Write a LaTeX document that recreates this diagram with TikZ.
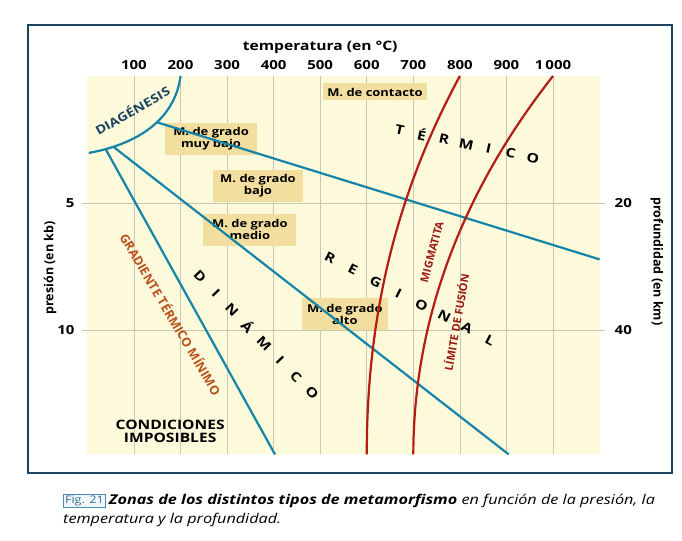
\documentclass[tikz,border=0pt]{standalone}
\usepackage{fontspec}
\setmainfont{Open Sans}[FakeStretch=1.2]
\newfontfamily\narrowsans{Open Sans}
\usetikzlibrary{calc}
\definecolor{framenavy}{RGB}{28,68,98}
\definecolor{chartyellow}{RGB}{252,250,218}
\definecolor{gridgray}{RGB}{200,198,180}
\definecolor{curveblue}{RGB}{22,132,168}
\definecolor{curvered}{RGB}{180,28,20}
\definecolor{boxtan}{RGB}{242,222,158}
\definecolor{labelbrown}{RGB}{186,80,30}
\definecolor{figblue}{RGB}{70,140,190}
\begin{document}
\begin{tikzpicture}[x=0.4656pt, y=-25.4pt,
  gridline/.style={draw=gridgray, line width=0.7pt},
  bluecurve/.style={draw=curveblue, line width=2.2pt},
  redcurve/.style={draw=curvered, line width=2.2pt},
  zonebox/.style={fill=boxtan, minimum width=90pt, minimum height=32pt, align=center, inner sep=2pt, font=\bfseries\fontsize{10.8}{12}\selectfont},
  zoneletter/.style={inner sep=1pt, font=\bfseries\fontsize{13}{13}\selectfont},
  ticklabel/.style={font=\bfseries\fontsize{12.5}{12.5}\selectfont},
  axislabel/.style={font=\bfseries\fontsize{13}{13}\selectfont},
  sidelabel/.style={font=\narrowsans\bfseries\fontsize{12.5}{12.5}\selectfont},
  bandlabel/.style={inner sep=1pt, font=\narrowsans\bfseries\fontsize{11}{12}\selectfont}
]
  \useasboundingbox (-187.71,-2.992) rectangle (1277.06,18.307);
  \draw[framenavy, line width=2pt] (-127.6,-2.008) rectangle (1255.6,15.63);

  \fill[chartyellow] (0,0) rectangle (1100,14.9);
  \foreach \t in {100,200,...,1000} \draw[gridline] (\t,0) -- (\t,14.9);
  \foreach \p in {5,10} \draw[gridline] (-12,\p) -- (1112,\p);

  \foreach \t/\lab in {100/100,200/200,300/300,400/400,500/500,600/600,700/700,800/800,900/900,1000/{1\,000}}
    \node[ticklabel] (tick\t) at (\t,-0.43) {\lab};
  \node[axislabel] (temptitle) at (500,-1.14) {temperatura (en °C)};
  \node[sidelabel, rotate=90] (prestitle) at (-80,7.56) {presión (en kb)};
  \node[sidelabel, rotate=-90] (depthtitle) at (1223,7.3) {profundidad (en km)};
  \node[ticklabel, anchor=east] (p5) at (-20,5) {5};
  \node[ticklabel, anchor=east] (p10) at (-20,10) {10};
  \node[ticklabel, anchor=west] (d20) at (1125,5) {20};
  \node[ticklabel, anchor=west] (d40) at (1125,10) {40};

  \node[zonebox, minimum width=104pt, minimum height=17pt] (contacto) at (617.7,0.63) {M. de contacto};
  \node[zonebox, minimum width=92pt] (muybajo) at (265.5,2.48) {M. de grado\\muy bajo};
  \node[zonebox] (bajo) at (366.4,4.33) {M. de grado\\bajo};
  \node[zonebox, minimum width=93pt] (medio) at (349,6.06) {M. de grado\\medio};
  \node[zonebox, minimum width=86pt] (alto) at (553,9.37) {M. de grado\\alto};

  \draw[bluecurve] (200,0) .. controls (190.2,1.42) and (130.2,2.6) .. (3,3.03)
    coordinate[pos=0.48] (dgA) coordinate[pos=0.85] (dgB) coordinate[pos=0.9] (dgC);
  \coordinate (bajoend) at (1100,7.22);
  \coordinate (regend) at (905,14.9);
  \coordinate (gradend) at (403,14.9);
  \draw[bluecurve] (dgA) -- (bajoend);
  \draw[bluecurve] (dgB) -- (regend);
  \draw[bluecurve] (dgC) -- (gradend);

  \coordinate (migtop) at (800,0);
  \coordinate (migbot) at (600,14.9);
  \coordinate (fustop) at (1000,0);
  \coordinate (fusbot) at (700,14.9);
  \draw[redcurve] (migtop) .. controls (650,5.08) and (600,10) .. (migbot);
  \draw[redcurve] (fustop) .. controls (790,4.9) and (700,10) .. (fusbot);

  \coordinate (terA) at (671,2.13);
  \coordinate (terB) at (957,3.23);
  \foreach \l [count=\i from 0] in {T,É,R,M,I,C,O}
    \node[zoneletter, rotate=-12] (ter\i) at ($(terA)!\i/6!(terB)$) {\l};
  \coordinate (regA) at (521,7.17);
  \coordinate (regB) at (864.7,10.39);
  \foreach \l [count=\i from 0] in {R,E,G,I,O,N,A,L}
    \node[zoneletter, rotate=-27] (reg\i) at ($(regA)!\i/7!(regB)$) {\l};
  \coordinate (dinA) at (241.8,7.91);
  \coordinate (dinB) at (482.3,12.48);
  \foreach \l [count=\i from 0] in {D,I,N,Á,M,I,C,O}
    \node[zoneletter, rotate=-46] (din\i) at ($(dinA)!\i/7!(dinB)$) {\l};

  \node[zoneletter, font=\bfseries\fontsize{12}{12}\selectfont, text=framenavy, rotate=30] (diagen) at (96,1.34) {DIAGÉNESIS};
  \node[bandlabel, font=\narrowsans\bfseries\fontsize{12.5}{13}\selectfont, text=labelbrown, rotate=-59.5] (gradlabel) at (180,9.37) {GRADIENTE TÉRMICO MÍNIMO};
  \node[bandlabel, text=curvered!85!black, rotate=75] (miglabel) at (740,6.93) {MIGMATITA};
  \node[bandlabel, text=curvered!85!black, rotate=80] (fuslabel) at (791.7,9.69) {LÍMITE DE FUSIÓN};
  \node[axislabel, align=center] (imposibles) at (177.7,13.98) {CONDICIONES\\IMPOSIBLES};

  \node[draw=figblue, fill=figblue!8, text=figblue!80!black, anchor=west, inner sep=1.8pt, font=\fontsize{10.5}{11}\selectfont] (figtag) at (-52.4,16.72) {Fig. 21};
  \node[anchor=west, inner sep=3pt, font=\itshape\fontsize{13.5}{14}\selectfont] (capline1) at (figtag.east) {\textbf{Zonas de los distintos tipos de metamorfismo} en función de la presión, la};
  \node[anchor=west, inner sep=0pt, font=\itshape\fontsize{13.5}{14}\selectfont] (capline2) at (-52.4,17.46) {temperatura y la profundidad.};
\end{tikzpicture}
\end{document}
